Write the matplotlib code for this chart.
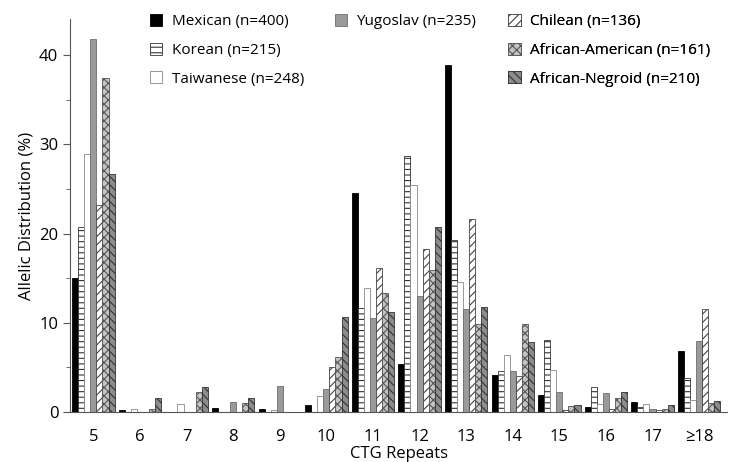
#!/usr/bin/env python3

import matplotlib
matplotlib.use("Agg")
import matplotlib.pyplot as plt
import matplotlib.ticker as ticker
import numpy as np

plt.rcParams['font.family'] = ['Open Sans', 'DejaVu Sans']
plt.rcParams['hatch.linewidth'] = 0.8

repeats = ['5', '6', '7', '8', '9', '10', '11', '12', '13', '14', '15', '16', '17', '\u226518']

mexican = [15.0, 0.2, 0, 0.5, 0.3, 0.8, 24.6, 5.4, 38.9, 4.2, 1.9, 0.6, 1.1, 6.8]
korean = [20.7, 0, 0, 0, 0, 0, 11.7, 28.7, 19.3, 4.6, 8.1, 2.8, 0.6, 3.8]
taiwanese = [28.9, 0.3, 0.9, 0, 0.2, 1.8, 13.9, 25.4, 14.6, 6.4, 4.7, 0.9, 0.9, 1.4]
yugoslav = [41.8, 0, 0, 1.1, 2.9, 2.6, 10.5, 13.0, 11.5, 4.6, 2.2, 2.1, 0.4, 8.0]
chilean = [23.2, 0, 0, 0, 0, 5.0, 16.2, 18.3, 21.6, 4.0, 0.2, 0.3, 0.2, 11.6]
african_american = [37.4, 0.4, 2.2, 1.0, 0, 6.2, 13.4, 15.9, 9.9, 9.9, 0.7, 1.6, 0.4, 1.0]
african_negroid = [26.7, 1.6, 2.8, 1.6, 0, 10.7, 11.2, 20.7, 11.8, 7.8, 0.8, 2.3, 0.8, 1.3]

series = [
    ('Mexican (n=400)', mexican, dict(facecolor='black', edgecolor='black', hatch=None)),
    ('Korean (n=215)', korean, dict(facecolor='white', edgecolor='#333333', hatch='---')),
    ('Taiwanese (n=248)', taiwanese, dict(facecolor='white', edgecolor='#888888', hatch=None)),
    ('Yugoslav (n=235)', yugoslav, dict(facecolor='#9a9a9a', edgecolor='#6e6e6e', hatch=None)),
    ('Chilean (n=136)', chilean, dict(facecolor='white', edgecolor='#444444', hatch='////')),
    ('African-American (n=161)', african_american, dict(facecolor='#c4c4c4', edgecolor='#555555', hatch='xxxx')),
    ('African-Negroid (n=210)', african_negroid, dict(facecolor='#8c8c8c', edgecolor='#333333', hatch='\\\\\\\\')),
]

fig = plt.figure(figsize=(7.3, 4.62), dpi=100)
ax = fig.add_axes([0.096, 0.108, 0.9, 0.85])

x = np.arange(len(repeats))
width = 0.13
handles = []
for i, (label, vals, style) in enumerate(series):
    b = ax.bar(x + (i - 3) * width, vals, width, linewidth=0.6, label=label, **style)
    handles.append(b)

# legend in three free-standing columns
columns = [(0, 3, 0.122), (3, 4, 0.403), (4, 7, 0.667)]
for start, stop, xpos in columns:
    leg = ax.legend(handles[start:stop], [s[0] for s in series[start:stop]],
                    loc='upper left', bbox_to_anchor=(xpos, 1.013), borderaxespad=0,
                    borderpad=0, frameon=False, fontsize=11, handlelength=0.8,
                    handleheight=0.8, labelspacing=0.88, handletextpad=0.6)
    ax.add_artist(leg)

ax.set_xlim(-0.5, 13.6)
ax.set_ylim(0, 44)
ax.set_xticks(x)
ax.set_xticklabels(repeats, fontsize=12)
ax.tick_params(axis='x', length=0, pad=12)
ax.yaxis.set_major_locator(ticker.MultipleLocator(10))
ax.yaxis.set_minor_locator(ticker.MultipleLocator(5))
ax.tick_params(axis='y', which='major', length=5, labelsize=12, color='#555555')
ax.tick_params(axis='y', which='minor', length=3, color='#555555')
for s in ['top', 'right']:
    ax.spines[s].set_visible(False)
ax.spines['left'].set_color('#555555')
ax.spines['bottom'].set_color('#555555')

ax.set_xlabel('CTG Repeats', fontsize=12, labelpad=1)
ax.set_ylabel('Allelic Distribution (%)', fontsize=12, labelpad=3)

fig.savefig('out.png', dpi=100)
